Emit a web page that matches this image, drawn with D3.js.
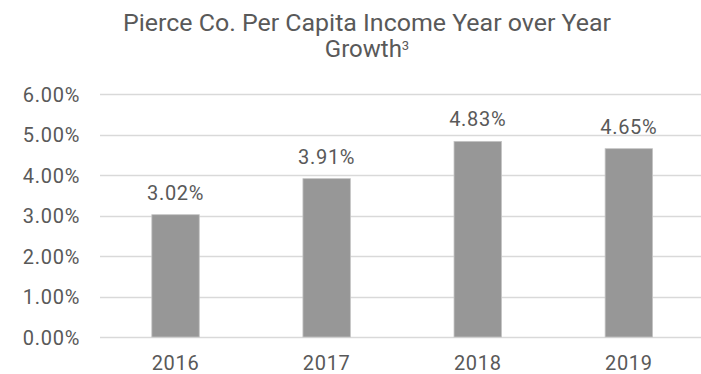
<!DOCTYPE html>
<html>
<head>
<meta charset="utf-8">
<script src="https://cdn.jsdelivr.net/npm/d3@7"></script>
<style>
  html, body { margin: 0; padding: 0; background: #fff; }
  svg { display: block; }
  text { font-family: Roboto, "Liberation Sans", sans-serif; fill: #595959; }
</style>
</head>
<body>
<svg id="chart" width="701" height="374"></svg>
<script>
// Per capita income growth, year over year
const years = ["2016", "2017", "2018", "2019"];
const growth = [3.02, 3.91, 4.83, 4.65];
const yTicks = [0, 1, 2, 3, 4, 5, 6];
const titleLines = ["Pierce Co. Per Capita Income Year over Year", "Growth"];
const titleNote = "3";

const svg = d3.select("#chart");
const W = 701, H = 374;
const margin = { top: 94, right: -3.4, bottom: 37, left: 100 };
const numFont = "20px";
const numSpacing = "0.7px";

const x = d3.scaleBand()
  .domain(years)
  .range([margin.left, W - margin.right])
  .paddingInner(0)
  .paddingOuter(0);

const y = d3.scaleLinear()
  .domain([0, 6])
  .range([H - margin.bottom, margin.top]);

const barFrac = 0.314;
const fmt = d => d.toFixed(2) + "%";

// Gridlines
svg.append("g")
  .selectAll("line")
  .data(yTicks)
  .join("line")
  .attr("x1", margin.left)
  .attr("x2", W - margin.right)
  .attr("y1", d => Math.round(y(d)) + 0.5)
  .attr("y2", d => Math.round(y(d)) + 0.5)
  .attr("stroke", "#d9d9d9")
  .attr("stroke-width", 1.3);

// Y axis labels
const yAxis = d3.axisLeft(y)
  .tickValues(yTicks)
  .tickFormat(fmt)
  .tickSize(0)
  .tickPadding(0);
const gy = svg.append("g")
  .attr("transform", `translate(${margin.left - 20},0)`)
  .call(yAxis);
gy.select(".domain").remove();
gy.selectAll("text")
  .attr("fill", "#595959")
  .attr("dy", "0.36em")
  .style("font-size", numFont)
  .style("letter-spacing", numSpacing)
  .style("font-family", "Roboto, sans-serif");

// Bars
const bw = x.bandwidth() * barFrac;
svg.append("g")
  .selectAll("rect")
  .data(years)
  .join("rect")
  .attr("x", (d) => x(d) + (x.bandwidth() - bw) / 2)
  .attr("y", (d, i) => y(growth[i]))
  .attr("width", bw)
  .attr("height", (d, i) => y(0) - y(growth[i]))
  .attr("fill", "#979797")
  .attr("stroke", "#c4c4c4")
  .attr("stroke-width", 0.8);

// Value labels
svg.append("g")
  .selectAll("text")
  .data(years)
  .join("text")
  .attr("x", d => x(d) + x.bandwidth() / 2)
  .attr("y", (d, i) => y(growth[i]) - 15)
  .attr("text-anchor", "middle")
  .style("font-size", numFont)
  .style("letter-spacing", numSpacing)
  .text((d, i) => fmt(growth[i]));

// X axis labels
const xAxis = d3.axisBottom(x).tickSize(0).tickPadding(0);
const gx = svg.append("g")
  .attr("transform", `translate(0,${H - margin.bottom})`)
  .call(xAxis);
gx.select(".domain").remove();
gx.selectAll("text")
  .attr("fill", "#595959")
  .attr("dy", null)
  .attr("y", 33)
  .style("font-size", numFont)
  .style("letter-spacing", numSpacing)
  .style("font-family", "Roboto, sans-serif");

// Title
const cx = 367;
const t1 = svg.append("text")
  .attr("x", cx)
  .attr("y", 31)
  .attr("text-anchor", "middle")
  .style("font-size", "24px")
  .text(titleLines[0]);
const w1 = t1.node().getComputedTextLength();
if (Math.abs(w1 - 488) > 4) {
  t1.attr("textLength", 488).attr("lengthAdjust", "spacingAndGlyphs");
}

const t2 = svg.append("text")
  .attr("x", cx)
  .attr("y", 57)
  .attr("text-anchor", "middle")
  .style("font-size", "24px");
t2.append("tspan").text(titleLines[1]);
t2.append("tspan")
  .attr("dy", -7)
  .style("font-size", "13px")
  .text(titleNote);
</script>
</body>
</html>
